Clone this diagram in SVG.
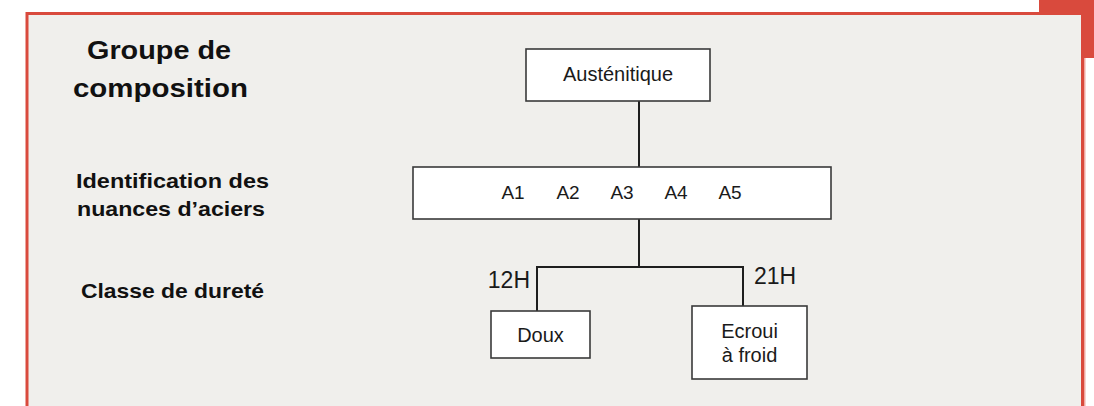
<svg xmlns="http://www.w3.org/2000/svg" width="1094" height="406" viewBox="0 0 1094 406">
<style>
.lbl{font-family:"Liberation Sans",Arial,sans-serif;font-weight:bold;fill:#111}
.t{font-family:"Liberation Sans",Arial,sans-serif;fill:#1a1a1a}
.box{fill:#ffffff;stroke:#3a3a3a;stroke-width:1.6}
.ln{stroke:#1e1e1e;stroke-width:2;fill:none}
</style>
<rect x="0" y="0" width="1094" height="406" fill="#ffffff"/>
<rect x="1039" y="0" width="55" height="58" fill="#d94a3d"/>
<rect x="27" y="13.5" width="1055.5" height="400" fill="#f0efec" stroke="#d94a3d" stroke-width="3"/>
<rect x="1084" y="58" width="1.5" height="348" fill="#f0a8a0"/>
<g id="labels">
<text class="lbl" x="87" y="59" font-size="25" textLength="144" lengthAdjust="spacingAndGlyphs">Groupe de</text>
<text class="lbl" x="73" y="97" font-size="25" textLength="175" lengthAdjust="spacingAndGlyphs">composition</text>
<text class="lbl" x="76" y="188" font-size="21" textLength="193" lengthAdjust="spacingAndGlyphs">Identification des</text>
<text class="lbl" x="77" y="216" font-size="21" textLength="188" lengthAdjust="spacingAndGlyphs">nuances d’aciers</text>
<text class="lbl" x="81" y="298" font-size="21" textLength="183" lengthAdjust="spacingAndGlyphs">Classe de dureté</text>
</g>
<g id="connectors">
<line class="ln" x1="639" y1="101" x2="639" y2="167"/>
<line class="ln" x1="639" y1="219" x2="639" y2="267"/>
<line class="ln" x1="536" y1="267" x2="744" y2="267"/>
<line class="ln" x1="537" y1="267" x2="537" y2="311"/>
<line class="ln" x1="743" y1="267" x2="743" y2="306"/>
</g>
<g id="austenitique">
<rect class="box" x="526" y="49" width="184" height="52"/>
<text class="t" x="618" y="81" font-size="20" text-anchor="middle">Austénitique</text>
</g>
<g id="nuances">
<rect class="box" x="413" y="167" width="418" height="52"/>
<text class="t" x="513" y="198.5" font-size="19" text-anchor="middle">A1</text>
<text class="t" x="568" y="198.5" font-size="19" text-anchor="middle">A2</text>
<text class="t" x="622" y="198.5" font-size="19" text-anchor="middle">A3</text>
<text class="t" x="676" y="198.5" font-size="19" text-anchor="middle">A4</text>
<text class="t" x="730" y="198.5" font-size="19" text-anchor="middle">A5</text>
</g>
<g id="label-12H">
<text class="t" x="530" y="288" font-size="23" text-anchor="end">12H</text>
</g>
<g id="label-21H">
<text class="t" x="754" y="284" font-size="23">21H</text>
</g>
<g id="doux">
<rect class="box" x="491" y="311" width="99" height="47"/>
<text class="t" x="540.5" y="342" font-size="20" text-anchor="middle">Doux</text>
</g>
<g id="ecroui">
<rect class="box" x="692" y="306" width="115" height="73"/>
<text class="t" x="749.5" y="338" font-size="20" text-anchor="middle">Ecroui</text>
<text class="t" x="749.5" y="362" font-size="20" text-anchor="middle">à froid</text>
</g>
</svg>
